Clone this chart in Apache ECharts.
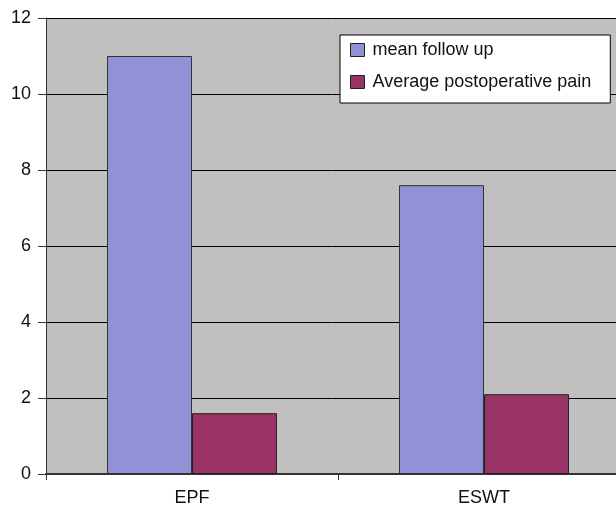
<!DOCTYPE html>
<html><head><meta charset="utf-8">
<script src="https://cdn.jsdelivr.net/npm/echarts@6/dist/echarts.min.js"></script>
<style>html,body{margin:0;padding:0;background:#fff}#c{width:616px;height:508px}</style>
</head><body><div id="c"></div>
<script>
const categories = ['EPF', 'ESWT'];
const meanFollowUp = [11, 7.6];
const avgPain = [1.6, 2.1];
const yTicks = [0, 2, 4, 6, 8, 10, 12];

const chart = echarts.init(document.getElementById('c'), null, {renderer: 'canvas'});
const font = 'Liberation Sans, Arial, sans-serif';
chart.setOption({
  animation: false,
  grid: {left: 46, top: 18, width: 584, height: 456, outerBoundsMode: 'none', containLabel: false,
         show: true, backgroundColor: '#C0C0C0', borderWidth: 0},
  legend: {
    orient: 'vertical', left: 340, top: 35,
    backgroundColor: '#fff', borderColor: '#000', borderWidth: 1,
    padding: [6, 19, 12, 10], itemGap: 14, itemWidth: 14, itemHeight: 13,
    textStyle: {fontFamily: font, fontSize: 18, color: '#111', padding: [0, 0, 0, 3]},
    data: [
      {name: 'mean follow up', icon: 'rect', itemStyle: {borderColor: '#222', borderWidth: 1}},
      {name: 'Average postoperative pain', icon: 'rect', itemStyle: {borderColor: '#222', borderWidth: 1}}
    ]
  },
  xAxis: {
    type: 'category', data: categories,
    axisLine: {lineStyle: {color: '#333', width: 2}},
    axisTick: {show: true, length: 6, lineStyle: {color: '#333'}},
    axisLabel: {fontFamily: font, fontSize: 18, color: '#111', margin: 15},
    splitLine: {show: false}
  },
  yAxis: {
    type: 'value', min: yTicks[0], max: yTicks[yTicks.length - 1], interval: 2,
    axisLine: {show: true, lineStyle: {color: '#333', width: 1}},
    axisTick: {show: true, length: 8, lineStyle: {color: '#333'}},
    axisLabel: {fontFamily: font, fontSize: 18, color: '#111', margin: 15},
    splitLine: {show: true, lineStyle: {color: '#000', width: 1}}
  },
  series: [
    {name: 'mean follow up', type: 'bar', data: meanFollowUp, barWidth: 85, barGap: '0%',
     itemStyle: {color: '#9191D5', borderColor: '#333', borderWidth: 1}},
    {name: 'Average postoperative pain', type: 'bar', data: avgPain, barWidth: 85,
     itemStyle: {color: '#993366', borderColor: '#222', borderWidth: 1}}
  ]
});
</script></body></html>
